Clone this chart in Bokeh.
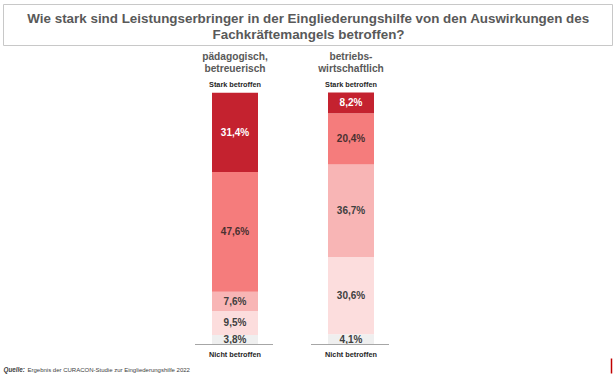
from bokeh.plotting import figure
from bokeh.models import Range1d, ColumnDataSource
from bokeh.core.properties import value
from bokeh.embed import file_html
from bokeh.resources import INLINE

# ---------------- data ----------------
title_lines = ["Wie stark sind Leistungserbringer in der Eingliederungshilfe von den Auswirkungen des",
               "Fachkräftemangels betroffen?"]
categories = ["pädagogisch,\nbetreuerisch", "betriebs-\nwirtschaftlich"]
nicht_betroffen = [3.8, 4.1]
gering = [9.5, 30.6]
mittel = [7.6, 36.7]
eher_stark = [47.6, 20.4]
stark = [31.4, 8.2]
top_label = "Stark betroffen"
bottom_label = "Nicht betroffen"
source_bold = "Quelle:"
source_text = "Ergebnis der CURACON-Studie zur Eingliederungshilfe 2022"

# ---------------- layout ----------------
W, H = 616, 377
PAGE_LEFT, PAGE_TOP = 0, 0
BAR_TOP, BAR_BOTTOM = 92, 344
px_per = (BAR_BOTTOM - BAR_TOP) / 100.0
y_start = -(PAGE_TOP + H - BAR_BOTTOM) / px_per
y_end = 100 + (BAR_TOP - PAGE_TOP) / px_per
X_CENTERS = [234.5, 350.5]
BAR_W = 46
FONT = "Liberation Sans"
colors = ["#EFEFEF", "#FCDDDD", "#F8B5B5", "#F57C7C", "#C4222F"]
txt_colors = ["#404040", "#404040", "#404040", "#4a3030", "#FFFFFF"]

p = figure(width=W, height=H, x_range=Range1d(PAGE_LEFT, PAGE_LEFT + W),
           y_range=Range1d(y_start, y_end), x_axis_type=None, y_axis_type=None,
           output_backend="svg", toolbar_location=None, min_border=0,
           outline_line_color=None)
p.grid.visible = False
p.extra_y_ranges = {"page": Range1d(PAGE_TOP + H, PAGE_TOP)}

# title box
p.quad(left=[3], right=[612], top=[4], bottom=[45], fill_color="white",
       line_color="#C8C8C8", line_width=1, y_range_name="page")
p.text(x=[308, 308], y=[18, 34], text=title_lines, text_font=value(FONT),
       text_font_style="bold", text_font_size="13.4px", text_color="#595959",
       text_align="center", text_baseline="middle", y_range_name="page")

# bars
series = [nicht_betroffen, gering, mittel, eher_stark, stark]
keys = ["s0", "s1", "s2", "s3", "s4"]
data = {"x": X_CENTERS}
for k, s in zip(keys, series):
    data[k] = s
src = ColumnDataSource(data)
p.vbar_stack(keys, x="x", width=BAR_W, color=colors, line_color=None, source=src)

# percent labels
lx, ly, lt, lc = [], [], [], []
for i, xc in enumerate(X_CENTERS):
    cum = 0.0
    for j, s in enumerate(series):
        v = s[i]
        lx.append(xc)
        ly.append(cum + v / 2.0)
        lt.append(("%.1f" % v).replace(".", ",") + "%")
        lc.append(txt_colors[j])
        cum += v
p.text(x=lx, y=ly, text=lt, text_color=lc, text_font=value(FONT),
       text_font_style="bold", text_font_size="10px", text_align="center",
       text_baseline="middle")

# baselines
p.segment(x0=[x - 40 for x in X_CENTERS], x1=[x + 38 for x in X_CENTERS],
          y0=[0, 0], y1=[0, 0], line_color="#A6A6A6", line_width=1)

# category labels
p.text(x=X_CENTERS, y=[62, 62], text=categories, text_font=value(FONT),
       text_font_style="bold", text_font_size="10.2px", text_color="#595959",
       text_align="center", text_baseline="middle", text_line_height=1.05,
       y_range_name="page")
p.text(x=X_CENTERS, y=[84, 84], text=[top_label] * 2, text_font=value(FONT),
       text_font_style="bold", text_font_size="7.3px", text_color="#262626",
       text_align="center", text_baseline="middle", y_range_name="page")
p.text(x=X_CENTERS, y=[354, 354], text=[bottom_label] * 2, text_font=value(FONT),
       text_font_style="bold", text_font_size="7.3px", text_color="#262626",
       text_align="center", text_baseline="middle", y_range_name="page")

# source
p.text(x=[3], y=[369], text=[source_bold], text_font=value(FONT),
       text_font_style="bold italic", text_font_size="6.3px", text_color="#404040",
       text_align="left", text_baseline="middle", y_range_name="page")
p.text(x=[27], y=[369], text=[source_text], text_font=value(FONT),
       text_font_size="6px", text_color="#404040",
       text_align="left", text_baseline="middle", y_range_name="page")

# small red mark bottom right
p.segment(x0=[611], x1=[611], y0=[358], y1=[373], line_color="#C00000",
          line_width=1.5, y_range_name="page")

open("out.html", "w").write(file_html(p, INLINE))
